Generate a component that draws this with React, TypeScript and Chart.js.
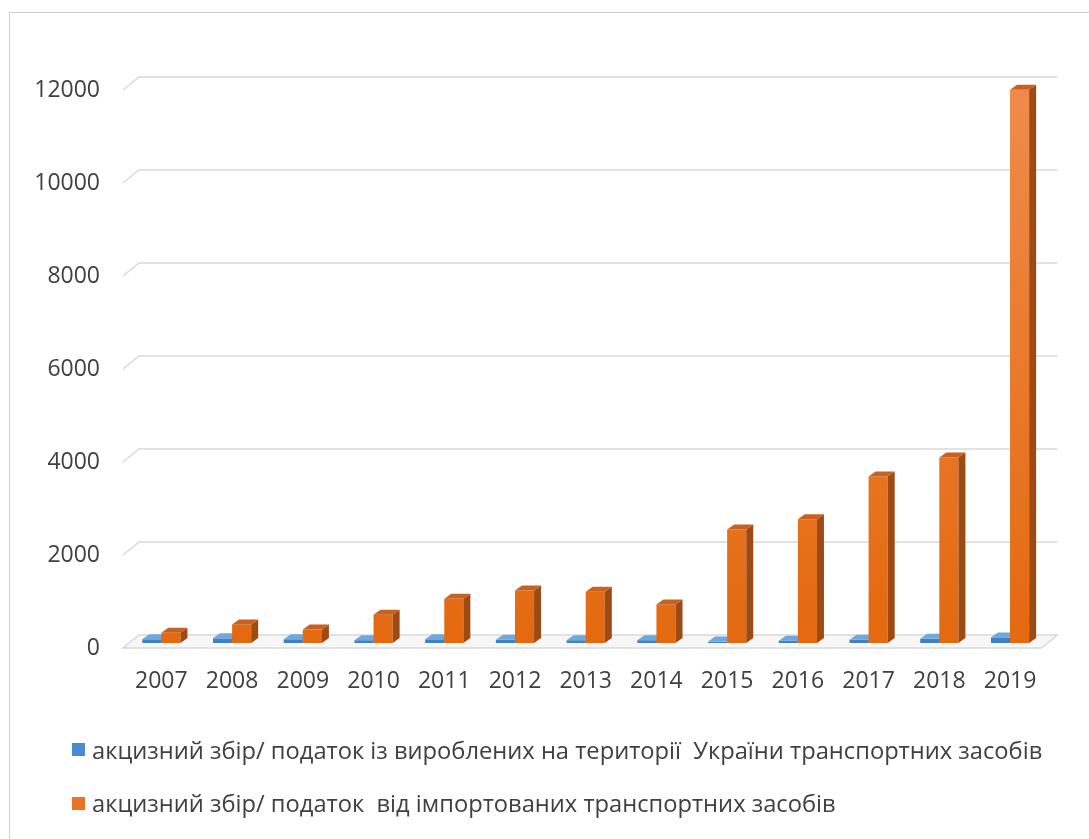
import React, { useEffect, useRef } from "react";
import { Chart, registerables } from "chart.js";

Chart.register(...registerables);

const years = ["2007", "2008", "2009", "2010", "2011", "2012", "2013", "2014", "2015", "2016", "2017", "2018", "2019"];
const domesticValues = [80, 100, 80, 60, 80, 70, 60, 60, 30, 50, 70, 90, 120];
const importedValues = [220, 400, 290, 610, 950, 1130, 1100, 830, 2440, 2660, 3580, 3990, 11900];
const yMin = 0;
const yMax = 12000;
const yStep = 2000;
const domesticLabel = "акцизний збір/ податок із вироблених на території  України транспортних засобів";
const importedLabel = "акцизний збір/ податок  від імпортованих транспортних засобів";

const FONT = "'Open Sans', 'Noto Sans', sans-serif";
const TEXT = "#404040";

const colors = [
  { front: "#4A8BD0", grad: ["#5A9ADA", "#3F80C6"], side: "#2E6399", top: "#6EA8DD" },
  { front: "#EA7426", grad: ["#EF8B4B", "#E4690F"], side: "#9E4A14", top: "#C8601E" },
];

const DX = 7;
const DY = 5;

function drawFaces(chart: any, index: number) {
  const { ctx } = chart;
  const meta = chart.getDatasetMeta(index);
  const c = colors[index];
  ctx.save();
  meta.data.forEach((bar: any) => {
    const p = bar.getProps(["x", "y", "base", "width"], true);
    const l = p.x - p.width / 2;
    const r = p.x + p.width / 2;
    const top = Math.min(p.y, p.base);
    const bottom = Math.max(p.y, p.base);
    ctx.fillStyle = c.side;
    ctx.beginPath();
    ctx.moveTo(r, top);
    ctx.lineTo(r + DX, top - DY);
    ctx.lineTo(r + DX, bottom - DY);
    ctx.lineTo(r, bottom);
    ctx.closePath();
    ctx.fill();
    ctx.fillStyle = c.top;
    ctx.beginPath();
    ctx.moveTo(l, top);
    ctx.lineTo(l + DX, top - DY);
    ctx.lineTo(r + DX, top - DY);
    ctx.lineTo(r, top);
    ctx.closePath();
    ctx.fill();
  });
  ctx.restore();
}

const bar3d = {
  id: "bar3d",
  beforeDatasetsDraw(chart: any) {
    const { ctx, chartArea, scales } = chart;
    const y = scales.y;
    const left = chartArea.left;
    const right = chartArea.right;
    const base = y.getPixelForValue(0);
    ctx.save();
    ctx.strokeStyle = "#d9d9d9";
    ctx.lineWidth = 1.5;
    y.ticks.forEach((t: any) => {
      if (t.value === 0) return;
      const py = y.getPixelForValue(t.value);
      ctx.beginPath();
      ctx.moveTo(left - 3, py + 5);
      ctx.lineTo(left + 13, py - 8);
      ctx.lineTo(right + 12, py - 8);
      ctx.stroke();
    });
    ctx.fillStyle = "#f7f7f7";
    ctx.beginPath();
    ctx.moveTo(left - 3, base + 5);
    ctx.lineTo(right - 4, base + 5);
    ctx.lineTo(right + 12, base - 8);
    ctx.lineTo(left + 13, base - 8);
    ctx.closePath();
    ctx.fill();
    ctx.stroke();
    ctx.restore();
  },
  beforeDatasetDraw() {
    return false;
  },
  afterDatasetsDraw(chart: any) {
    [0, 1].forEach((i) => {
      const meta = chart.getDatasetMeta(i);
      meta.controller.draw();
      drawFaces(chart, i);
    });
  },
};

function gradientFor(index: number) {
  return (c: any) => {
    const chart = c.chart;
    const a = chart.chartArea;
    if (!a) return colors[index].front;
    const g = chart.ctx.createLinearGradient(0, a.top, 0, a.bottom);
    g.addColorStop(0, colors[index].grad[0]);
    g.addColorStop(1, colors[index].grad[1]);
    return g;
  };
}

export default function App() {
  const ref = useRef<HTMLCanvasElement | null>(null);

  useEffect(() => {
    if (!ref.current) return;
    const chart = new Chart(ref.current, {
      type: "bar",
      data: {
        labels: years,
        datasets: [
          {
            label: domesticLabel,
            data: domesticValues,
            backgroundColor: gradientFor(0),
            borderWidth: 0,
            categoryPercentage: 0.54,
            barPercentage: 1,
          },
          {
            label: importedLabel,
            data: importedValues,
            backgroundColor: gradientFor(1),
            borderWidth: 0,
            categoryPercentage: 0.54,
            barPercentage: 1,
          },
        ],
      },
      options: {
        responsive: false,
        animation: false,
        layout: { padding: { top: 85, right: 43.6, bottom: 143.4, left: 0 } },
        plugins: { legend: { display: false }, tooltip: { enabled: false } },
        scales: {
          x: {
            afterFit(s: any) {
              s.height = 52.6;
            },
            grid: { display: false, drawTicks: false },
            border: { display: false },
            ticks: { font: { family: FONT, size: 23 }, color: TEXT, padding: 25, maxRotation: 0, autoSkip: false },
          },
          y: {
            min: yMin,
            max: yMax,
            afterFit(s: any) {
              s.width = 126;
            },
            grid: { display: false, drawTicks: false },
            border: { display: false },
            ticks: {
              stepSize: yStep,
              padding: 26,
              labelOffset: 5,
              font: { family: FONT, size: 23 },
              color: TEXT,
              callback: (v: any) => String(v),
            },
          },
        },
      },
      plugins: [bar3d],
    });
    return () => chart.destroy();
  }, []);

  const legendText: React.CSSProperties = {
    position: "absolute",
    left: 92,
    height: 30,
    lineHeight: "30px",
    fontFamily: FONT,
    fontSize: 23.7,
    color: TEXT,
    whiteSpace: "pre",
  };

  return (
    <div style={{ position: "fixed", left: 0, top: 0, width: 1089, height: 839, background: "#fff", overflow: "hidden" }}>
      <div style={{ position: "absolute", left: 9, top: 12, width: 1100, height: 900, borderTop: "1.5px solid #d0d0d0", borderLeft: "1.5px solid #d0d0d0" }} />
      <canvas ref={ref} width={1089} height={839} style={{ position: "absolute", left: 0, top: 0, display: "block" }} />
      <div style={{ position: "absolute", left: 72, top: 743, width: 13, height: 13, background: colors[0].front }} />
      <div style={{ ...legendText, top: 735 }}>{domesticLabel}</div>
      <div style={{ position: "absolute", left: 72, top: 797, width: 13, height: 13, background: colors[1].front }} />
      <div style={{ ...legendText, top: 788 }}>{importedLabel}</div>
    </div>
  );
}
